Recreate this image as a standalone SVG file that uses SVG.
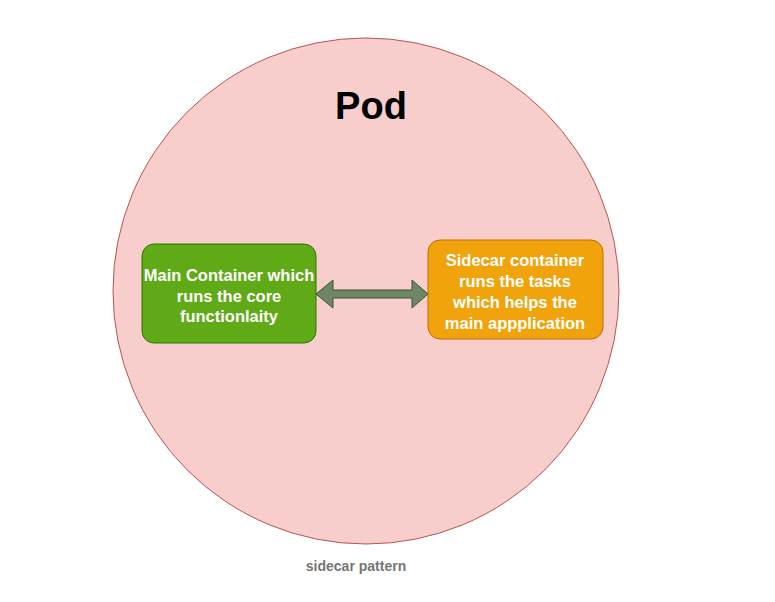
<svg xmlns="http://www.w3.org/2000/svg" width="775" height="602" viewBox="0 0 775 602">
<style>
.box{stroke-width:1}
.lbl{font-family:"Liberation Sans",Arial,sans-serif;font-weight:bold;font-size:16.5px;fill:#ffffff;text-anchor:middle}
</style>
<rect width="775" height="602" fill="#ffffff"/>
<g id="pod">
<circle cx="366" cy="291" r="253" fill="#f8cecc" stroke="#b85450" stroke-width="1"/>
<text x="371" y="119" font-family="Liberation Sans,Arial,sans-serif" font-weight="bold" font-size="38" text-anchor="middle" fill="#000000">Pod</text>
</g>
<g id="connectors">
<path d="M316,294 L333,280 L333,290 L412,290 L412,280 L428,294 L412,308 L412,298 L333,298 L333,308 Z" fill="#6d8764" stroke="#3a5431" stroke-width="1"/>
</g>
<g id="main">
<rect class="box" x="142" y="244" width="174" height="99" rx="12" fill="#60a917" stroke="#2d7600"/>
<text class="lbl" x="229" y="281">Main Container which</text>
<text class="lbl" x="229" y="302">runs the core</text>
<text class="lbl" x="229" y="322">functionlaity</text>
</g>
<g id="sidecar">
<rect class="box" x="428" y="240" width="175" height="99" rx="12" fill="#f0a30a" stroke="#bd7000"/>
<text class="lbl" x="515" y="266" font-size="17">Sidecar container</text>
<text class="lbl" x="515" y="287" font-size="17">runs the tasks</text>
<text class="lbl" x="515" y="308" font-size="17">which helps the</text>
<text class="lbl" x="515" y="329" font-size="17">main appplication</text>
</g>
<text x="356" y="571" font-family="Liberation Sans,Arial,sans-serif" font-weight="bold" font-size="14" text-anchor="middle" fill="#757575">sidecar pattern</text>
</svg>
